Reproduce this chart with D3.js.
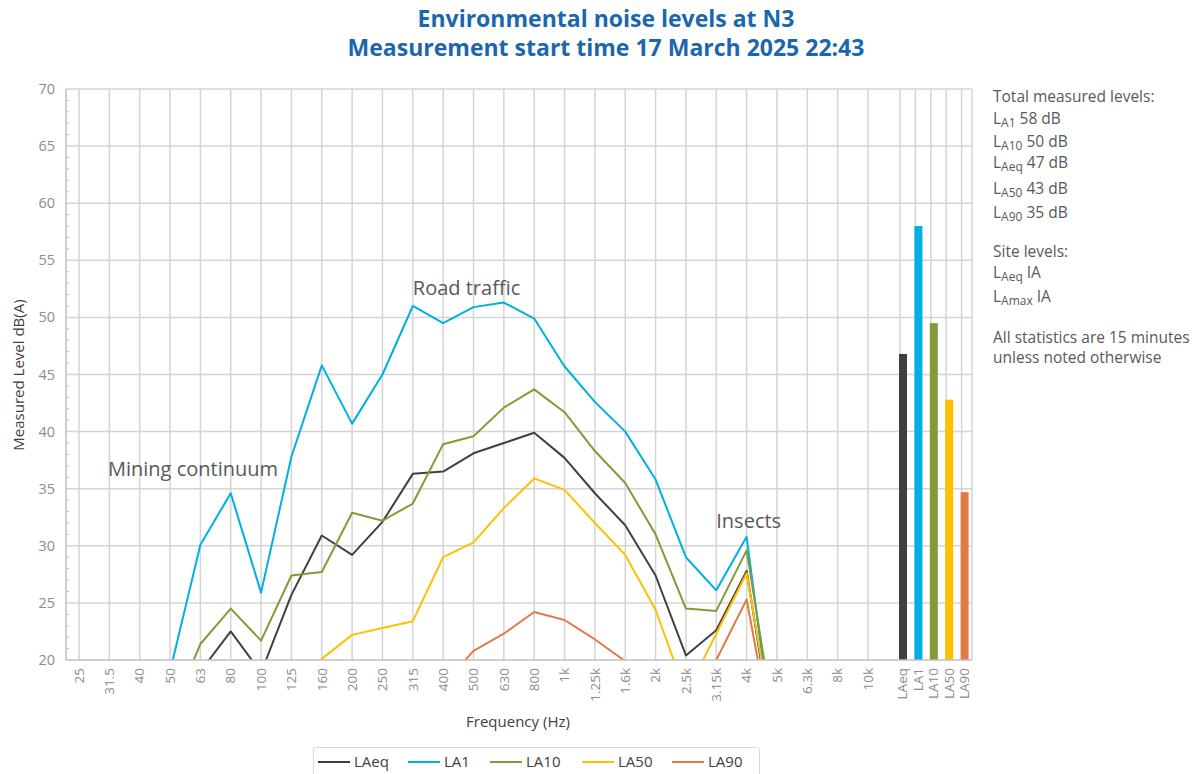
<!DOCTYPE html>
<html>
<head>
<meta charset="utf-8">
<script src="https://cdn.jsdelivr.net/npm/d3@7"></script>
<style>
  body { margin: 0; background: #fff; }
  text { font-family: "Open Sans", "Noto Sans", sans-serif; }
</style>
</head>
<body>
<svg id="chart" width="1196" height="774"></svg>
<script>
  'use strict';

  // one-third octave bands
  var freqLabels = ['25', '31.5', '40', '50', '63', '80', '100', '125', '160', '200', '250', '315',
    '400', '500', '630', '800', '1k', '1.25k', '1.6k', '2k', '2.5k', '3.15k', '4k', '5k', '6.3k', '8k', '10k'];

  // spectrum values, dB(A); values under 20 fall below the axis
  var laeq = [null, null, null, 12, 19.0, 22.5, 18.9, 25.7, 30.9, 29.2, 32.1, 36.3,
    36.5, 38.1, 39.0, 39.9, 37.7, 34.6, 31.8, 27.4, 20.4, 22.6, 27.8, 11, null, null, null];
  var la1 = [null, null, 10, 19.0, 30.1, 34.6, 25.9, 37.8, 45.8, 40.7, 45.0, 51.0,
    49.5, 50.9, 51.3, 49.9, 45.7, 42.6, 40.0, 35.8, 29.0, 26.1, 30.8, 10.5, null, null, null];
  var la10 = [null, null, null, 15, 21.4, 24.5, 21.7, 27.4, 27.7, 32.9, 32.2, 33.7,
    38.9, 39.6, 42.1, 43.7, 41.7, 38.3, 35.5, 31.0, 24.5, 24.3, 29.6, 13, null, null, null];
  var la50 = [null, null, null, null, null, null, null, 12, 20.1, 22.2, 22.8, 23.4,
    29.0, 30.3, 33.3, 35.9, 34.9, 32.0, 29.2, 24.4, 17, 22.3, 27.6, 12, null, null, null];
  var la90 = [null, null, null, null, null, null, null, null, null, null, null, null,
    17.8, 20.8, 22.3, 24.2, 23.5, 21.8, 19.9, 16, 15, 20.0, 25.3, 11, null, null, null];

  // total measured levels
  var statLabels = ['LAeq', 'LA1', 'LA10', 'LA50', 'LA90'];
  var statValues = [46.8, 58.0, 49.5, 42.8, 34.7];

  var yTicks = [20, 25, 30, 35, 40, 45, 50, 55, 60, 65, 70];

  var seriesNames = ['LAeq', 'LA1', 'LA10', 'LA50', 'LA90'];
  var seriesValues = [laeq, la1, la10, la50, la90];
  var colors = ['#404040', '#00b0e0', '#7f9c37', '#ffc000', '#e07b47'];

  var notes = [
    { sub: null, text: 'Total measured levels:' },
    { sub: 'A1', text: ' 58 dB' },
    { sub: 'A10', text: ' 50 dB' },
    { sub: 'Aeq', text: ' 47 dB' },
    { sub: 'A50', text: ' 43 dB' },
    { sub: 'A90', text: ' 35 dB' },
    { sub: null, text: 'Site levels:' },
    { sub: 'Aeq', text: ' IA' },
    { sub: 'Amax', text: ' IA' },
    { sub: null, text: 'All statistics are 15 minutes' },
    { sub: null, text: 'unless noted otherwise' }
  ];
  var noteY = [102, 124, 147, 168, 194, 218, 257, 278, 302, 343, 363];

  var annotations = [
    { text: 'Road traffic', band: '315', value: 52.0 },
    { text: 'Mining continuum', band: '25', value: 36.1 },
    { text: 'Insects', band: '3.15k', value: 31.6 }
  ];

  var titleLines = ['Environmental noise levels at N3', 'Measurement start time 17 March 2025 22:43'];

  var plotLeft = 66, plotRight = 972, plotTop = 89, plotBottom = 660;
  var $svg = d3.select('#chart');

  var xScale = d3.scalePoint().domain(freqLabels).range([79, 868]);
  var xStat = d3.scaleBand().domain(statLabels).range([895, plotRight]);
  var yScale = d3.scaleLinear().domain([20, 70]).range([plotBottom, plotTop]);

  // title, one text per line
  $svg.selectAll('text.title')
    .data(titleLines)
    .enter().append('text')
    .attr('class', 'title')
    .attr('x', 606)
    .attr('y', function(d, i) { return 27 + i * 29; })
    .attr('text-anchor', 'middle')
    .style('font-weight', 'bold').style('font-size', '23px').style('fill', '#1b67ad')
    .text(function(d) { return d; });

  // grid
  var grid = $svg.append('g').attr('stroke', '#d4d4d4').attr('stroke-width', 1.5);
  grid.selectAll('line.h')
    .data(yTicks.slice(1))
    .enter().append('line')
    .attr('class', 'h')
    .attr('x1', plotLeft).attr('x2', plotRight)
    .attr('y1', function(d) { return yScale(d); })
    .attr('y2', function(d) { return yScale(d); });
  grid.selectAll('line.v')
    .data(freqLabels)
    .enter().append('line')
    .attr('class', 'v')
    .attr('x1', function(d) { return xScale(d); })
    .attr('x2', function(d) { return xScale(d); })
    .attr('y1', plotTop).attr('y2', plotBottom);
  grid.selectAll('line.vs')
    .data(statLabels)
    .enter().append('line')
    .attr('class', 'vs')
    .attr('x1', function(d) { return xStat(d) + 5; })
    .attr('x2', function(d) { return xStat(d) + 5; })
    .attr('y1', plotTop).attr('y2', plotBottom);
  grid.append('line')
    .attr('x1', plotRight).attr('x2', plotRight)
    .attr('y1', plotTop).attr('y2', plotBottom);

  // clip for the spectrum lines
  $svg.append('clipPath').attr('id', 'plot-clip')
    .append('rect')
    .attr('x', plotLeft).attr('y', plotTop - 2)
    .attr('width', plotRight - plotLeft).attr('height', plotBottom - plotTop + 2);

  var line = d3.line()
    .defined(function(d) { return d != null; })
    .x(function(d, i) { return xScale(freqLabels[i]); })
    .y(function(d) { return yScale(d); });

  $svg.append('g')
    .attr('clip-path', 'url(#plot-clip)')
    .selectAll('path.series')
    .data(seriesValues)
    .enter().append('path')
    .attr('class', 'series')
    .attr('fill', 'none')
    .attr('stroke-width', 2)
    .attr('stroke-linejoin', 'round')
    .attr('stroke', function(d, i) { return colors[i]; })
    .attr('d', line);

  // total level bars
  $svg.selectAll('rect.bar')
    .data(statValues)
    .enter().append('rect')
    .attr('class', 'bar')
    .attr('x', function(d, i) { return xStat(statLabels[i]) + 4; })
    .attr('width', 8)
    .attr('y', function(d) { return yScale(d); })
    .attr('height', function(d) { return plotBottom - yScale(d); })
    .attr('fill', function(d, i) { return colors[i]; });

  // axes lines
  $svg.append('line')
    .attr('x1', plotLeft).attr('x2', plotLeft).attr('y1', plotTop).attr('y2', plotBottom)
    .attr('stroke', '#bfbfbf').attr('stroke-width', 1.5);
  $svg.append('line')
    .attr('x1', plotLeft).attr('x2', plotRight).attr('y1', plotBottom).attr('y2', plotBottom)
    .attr('stroke', '#bfbfbf').attr('stroke-width', 1.5);

  // y minor ticks
  $svg.selectAll('line.minor')
    .data(d3.range(21, 70).filter(function(v) { return v % 5 !== 0; }))
    .enter().append('line')
    .attr('class', 'minor')
    .attr('x1', plotLeft).attr('x2', plotLeft + 3)
    .attr('y1', function(d) { return yScale(d); })
    .attr('y2', function(d) { return yScale(d); })
    .attr('stroke', '#bfbfbf').attr('stroke-width', 1);

  // y tick labels
  $svg.selectAll('text.ytick')
    .data(yTicks)
    .enter().append('text')
    .attr('class', 'ytick')
    .attr('x', 55)
    .attr('y', function(d) { return yScale(d); })
    .attr('dy', '0.35em')
    .attr('text-anchor', 'end')
    .style('font-size', '14.5px').style('fill', '#8c8c8c')
    .text(function(d) { return d; });

  // x tick labels
  $svg.selectAll('text.xtick')
    .data(freqLabels)
    .enter().append('text')
    .attr('class', 'xtick')
    .attr('transform', function(d) { return 'translate(' + xScale(d) + ',668) rotate(-90)'; })
    .attr('dy', '0.35em')
    .attr('text-anchor', 'end')
    .style('font-size', '13.5px').style('fill', '#8c8c8c')
    .text(function(d) { return d; });
  $svg.selectAll('text.stick')
    .data(statLabels)
    .enter().append('text')
    .attr('class', 'stick')
    .attr('transform', function(d) { return 'translate(' + (xStat(d) + xStat.bandwidth() / 2) + ',668) rotate(-90)'; })
    .attr('dy', '0.35em')
    .attr('text-anchor', 'end')
    .style('font-size', '13.5px').style('fill', '#8c8c8c')
    .text(function(d) { return d; });

  // axis titles
  $svg.append('text')
    .attr('transform', 'translate(24,375) rotate(-90)')
    .attr('text-anchor', 'middle')
    .style('font-size', '15px').style('fill', '#404040')
    .text('Measured Level dB(A)');
  $svg.append('text')
    .attr('x', 518).attr('y', 727)
    .attr('text-anchor', 'middle')
    .style('font-size', '15px').style('fill', '#404040')
    .text('Frequency (Hz)');

  // annotations
  $svg.selectAll('text.note')
    .data(annotations)
    .enter().append('text')
    .attr('class', 'note')
    .attr('x', function(d) { return xScale(d.band) + (d.band === '25' ? 29 : 0); })
    .attr('y', function(d) { return yScale(d.value); })
    .style('font-size', '20px').style('fill', '#595959')
    .text(function(d) { return d.text; });

  // side notes
  var side = $svg.selectAll('text.side')
    .data(notes)
    .enter().append('text')
    .attr('class', 'side')
    .attr('x', 993)
    .attr('y', function(d, i) { return noteY[i]; })
    .style('font-size', '15.5px').style('fill', '#595959');
  side.filter(function(d) { return d.sub; }).append('tspan').text('L');
  side.filter(function(d) { return d.sub; }).append('tspan')
    .attr('dy', 3).style('font-size', '12px')
    .text(function(d) { return d.sub; });
  side.append('tspan')
    .attr('dy', function(d) { return d.sub ? -3 : 0; })
    .text(function(d) { return d.text; });

  // legend
  var legend = $svg.append('g');
  legend.append('rect')
    .attr('x', 313.5).attr('y', 747.5).attr('width', 446).attr('height', 40)
    .attr('fill', '#fff').attr('stroke', '#d9d9d9').attr('rx', 2);
  var legendX = [318, 408, 490, 582, 672];
  var item = legend.selectAll('g.item')
    .data(seriesNames)
    .enter().append('g')
    .attr('class', 'item')
    .attr('transform', function(d, i) { return 'translate(' + legendX[i] + ',762)'; });
  item.append('line')
    .attr('x1', 0).attr('x2', 32)
    .attr('stroke-width', 2)
    .attr('stroke', function(d, i) { return colors[i]; });
  item.append('text')
    .attr('x', 36).attr('dy', '0.35em')
    .style('font-size', '15px').style('fill', '#404040')
    .text(function(d) { return d; });
</script>
</body>
</html>
